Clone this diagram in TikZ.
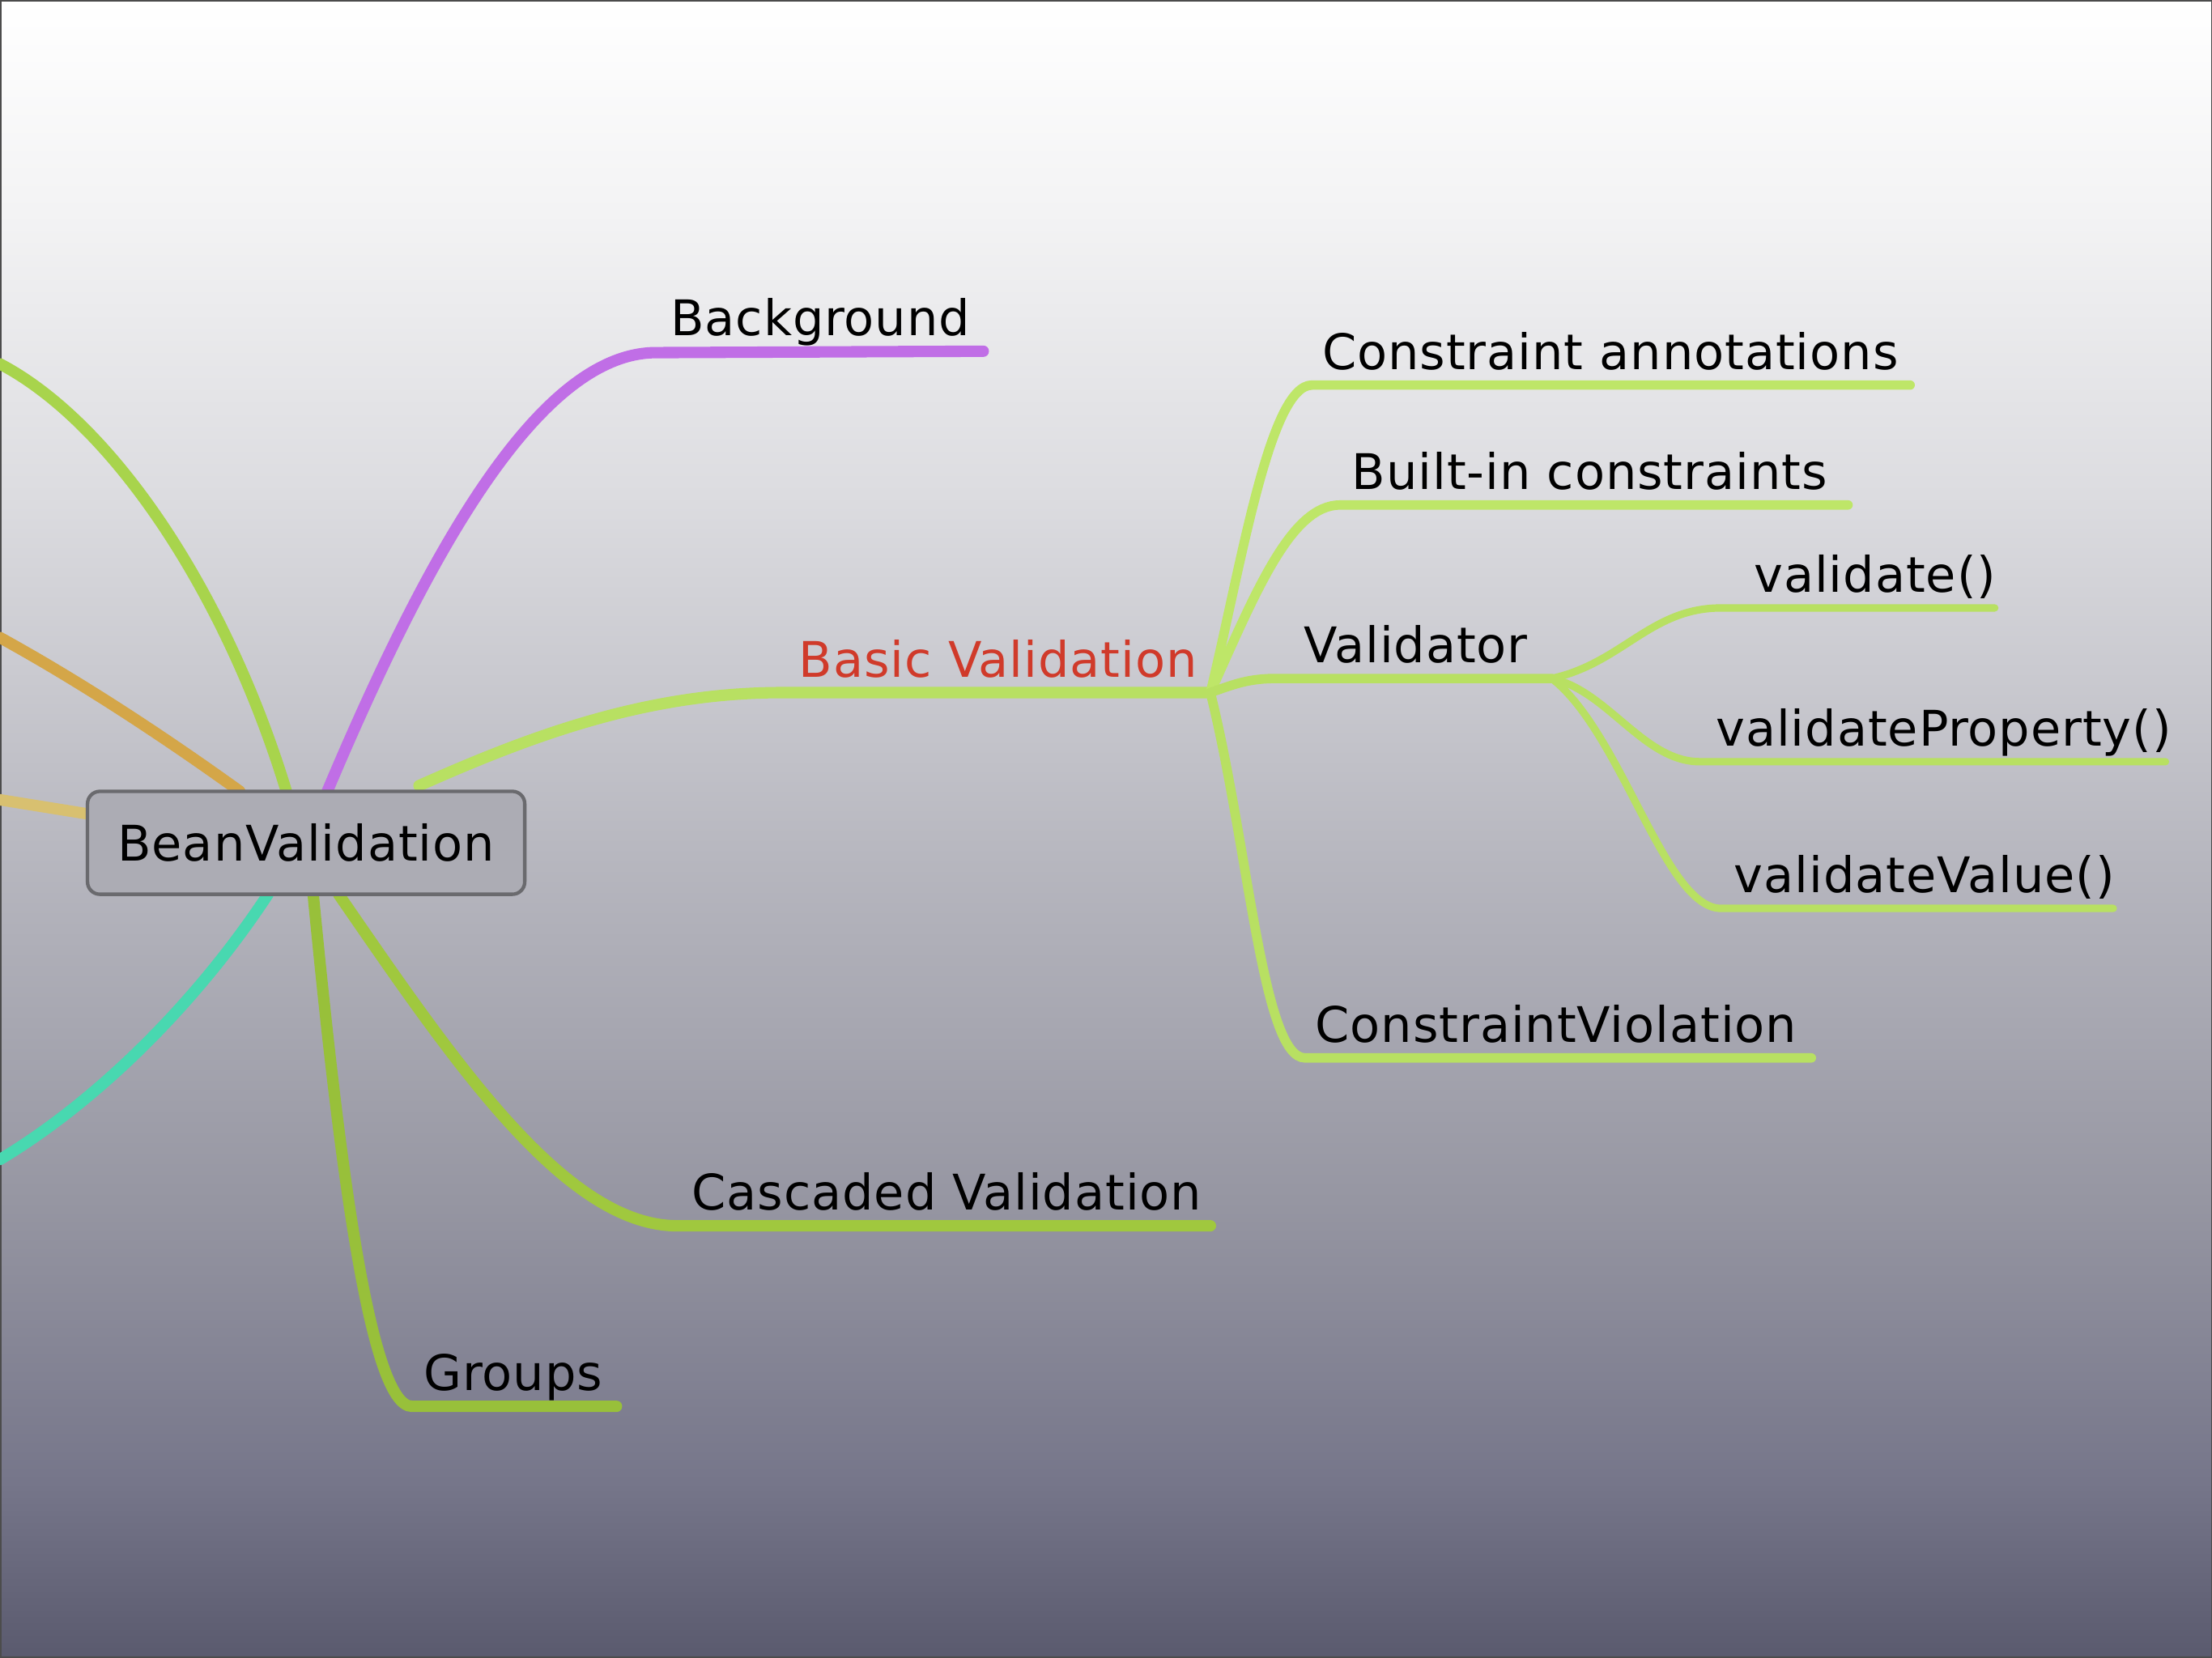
\documentclass[tikz,border=0pt]{standalone}
\usepackage{fontspec}
\setmainfont{DejaVu Sans}[LetterSpace=1.5]
\definecolor{bg0}{HTML}{FFFFFF}
\definecolor{bg1}{HTML}{F3F3F4}
\definecolor{bg2}{HTML}{DCDCE0}
\definecolor{bg3}{HTML}{B8B8C0}
\definecolor{bg4}{HTML}{9696A2}
\definecolor{bg5}{HTML}{76768A}
\definecolor{bg6}{HTML}{5A5A6E}
\pgfdeclareverticalshading{bgshade}{100bp}{color(0bp)=(bg6); color(25bp)=(bg6); color(30.3bp)=(bg5); color(38.8bp)=(bg4); color(49.5bp)=(bg3); color(60.1bp)=(bg2); color(68.6bp)=(bg1); color(75bp)=(bg0); color(100bp)=(bg0)}
\definecolor{cpurple}{HTML}{C06EE6}
\definecolor{cbasic}{HTML}{B8E062}
\definecolor{csub}{HTML}{BEE668}
\definecolor{cleft}{HTML}{A8D44C}
\definecolor{corange}{HTML}{D4A648}
\definecolor{cyellow}{HTML}{D8C070}
\definecolor{cteal}{HTML}{48D8B0}
\definecolor{cgroups}{HTML}{98C03A}
\definecolor{ccasc}{HTML}{A0C83E}
\definecolor{cred}{HTML}{D03A2A}
\definecolor{cnode}{HTML}{ACACB4}
\definecolor{cnodeborder}{HTML}{6A6A6E}
\begin{document}
\begin{tikzpicture}[x=0.02cm,y=-0.02cm,
  branch/.style={line width=4.6pt,line cap=round},
  subbranch/.style={line width=3.8pt,line cap=round},
  leafbranch/.style={line width=3pt,line cap=round},
  lbl/.style={anchor=base west,inner sep=0pt,font=\fontsize{19.8}{24}\selectfont,text=black}]
\useasboundingbox (0,0) rectangle (1568,1175);
\shade[shading=bgshade] (0,0) rectangle (1568,1175);
\draw[line width=1pt,draw=black!70] (0,0) rectangle (1568,1175);

% anchor coordinates
\coordinate (rootPurple) at (232,561);
\coordinate (rootLeft) at (203,561);
\coordinate (rootOrange) at (170,561);
\coordinate (rootYellow) at (62,577);
\coordinate (rootTeal) at (190,634);
\coordinate (rootGroups) at (222,634);
\coordinate (rootCasc) at (240,634);
\coordinate (rootBasic) at (297,557);
\coordinate (leftEnd) at (0,258);
\coordinate (orangeEnd) at (0,452);
\coordinate (yellowEnd) at (0,567);
\coordinate (tealEnd) at (0,822);
\coordinate (bgL) at (465,250);
\coordinate (bgR) at (697,249);
\coordinate (basicL) at (555,491);
\coordinate (hub) at (858,491);
\coordinate (caL) at (930,273);
\coordinate (caR) at (1354,273);
\coordinate (biL) at (950,358);
\coordinate (biR) at (1310,358);
\coordinate (vaL) at (905,481);
\coordinate (vhub) at (1100,481);
\coordinate (cvL) at (925,750);
\coordinate (cvR) at (1284,750);
\coordinate (v1L) at (1220,431);
\coordinate (v1R) at (1414,431);
\coordinate (v2L) at (1205,540);
\coordinate (v2R) at (1535,540);
\coordinate (v3L) at (1220,644);
\coordinate (v3R) at (1498,644);
\coordinate (cascL) at (480,869);
\coordinate (cascR) at (858,869);
\coordinate (grL) at (292,997);
\coordinate (grR) at (437,997);

% left-side branches
\draw[branch,draw=cleft] (rootLeft) .. controls (160,420) and (80,300) .. (leftEnd);
\draw[branch,draw=corange] (rootOrange) .. controls (120,525) and (60,485) .. (orangeEnd);
\draw[branch,draw=cyellow] (rootYellow) -- (yellowEnd);
\draw[branch,draw=cteal] (rootTeal) .. controls (140,710) and (70,780) .. (tealEnd);

% Background
\draw[branch,draw=cpurple] (rootPurple) .. controls (300,400) and (380,250) .. (bgL) -- (bgR);
% Basic Validation
\draw[branch,draw=cbasic] (rootBasic) .. controls (380,520) and (460,491) .. (basicL) -- (hub);
% Cascaded
\draw[branch,draw=ccasc] (rootCasc) .. controls (320,750) and (400,869) .. (cascL) -- (cascR);
% Groups
\draw[branch,draw=cgroups] (rootGroups) .. controls (240,820) and (262,997) .. (grL) -- (grR);

% Basic Validation children
\draw[subbranch,draw=csub] (hub) .. controls (880,400) and (900,273) .. (caL) -- (caR);
\draw[subbranch,draw=csub] (hub) .. controls (890,420) and (915,358) .. (biL) -- (biR);
\draw[subbranch,draw=cbasic] (hub) .. controls (875,485) and (885,481) .. (vaL) -- (vhub);
\draw[subbranch,draw=cbasic] (hub) .. controls (885,600) and (895,750) .. (cvL) -- (cvR);

% Validator children
\draw[leafbranch,draw=cbasic] (vhub) .. controls (1150,470) and (1170,431) .. (v1L) -- (v1R);
\draw[leafbranch,draw=cbasic] (vhub) .. controls (1140,490) and (1165,540) .. (v2L) -- (v2R);
\draw[leafbranch,draw=cbasic] (vhub) .. controls (1150,520) and (1180,644) .. (v3L) -- (v3R);

% root node
\node[draw=cnodeborder,fill=cnode,line width=1.4pt,rounded corners=5pt,
  minimum width=6.2cm,minimum height=1.46cm,inner sep=0pt,
  font=\fontsize{19.8}{24}\selectfont] (root) at (217,597.5) {BeanValidation};

% labels
\node[lbl] (bg) at (475,238) {Background};
\node[lbl,text=cred] (basic) at (566,480) {Basic Validation};
\node[lbl] (ca) at (937,262) {Constraint annotations};
\node[lbl] (bi) at (958,347) {Built-in constraints};
\node[lbl] (va) at (924,470) {Validator};
\node[lbl] (v1) at (1243,420) {validate()};
\node[lbl] (v2) at (1216,529) {validateProperty()};
\node[lbl] (v3) at (1229,633) {validateValue()};
\node[lbl] (cv) at (932,739) {ConstraintViolation};
\node[lbl] (casc) at (490,858) {Cascaded Validation};
\node[lbl] (gr) at (300,986) {Groups};
\end{tikzpicture}
\end{document}
